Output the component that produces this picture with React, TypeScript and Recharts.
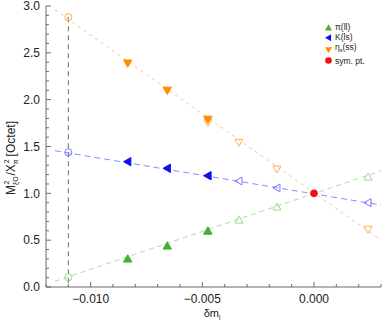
import React from "react";
import {
  ComposedChart,
  Scatter,
  XAxis,
  YAxis,
  ReferenceLine,
  Label,
} from "recharts";

// measured points (filled = simulated, open = extrapolated)
const xFilled = [-0.00834, -0.00657, -0.00475];
const piFilled = [0.3, 0.438, 0.598];
const kFilled = [1.338, 1.267, 1.188];
const etaFilled = [2.39, 2.1, 1.79];

const xOpen = [-0.011, -0.00475, -0.00336, -0.00166, 0.00242];
const piOpen = [0.104, 0.598, 0.715, 0.854, 1.174];
const kOpen = [1.438, 1.188, 1.132, 1.057, 0.9];
const etaOpen = [2.88, 1.755, 1.545, 1.26, 0.616];

const symX = [0];
const symY = [1];

// fit lines
const lineX = [-0.0116, 0.003];
const piLine = [0.06, 1.24];
const kLine = [1.455, 0.875];
const etaLine = [2.96, 0.5];

const xMajor = [-0.01, -0.005, 0];
const yMajor = [0, 0.5, 1, 1.5, 2, 2.5, 3];
const xMinorStep = 0.001;
const yMinorStep = 0.1;

const legendItems = [
  { label: "π(ll)", color: "#44b035", dir: "up" },
  { label: "K(ls)", color: "#1010f0", dir: "left" },
  { label: "η_s(ss)", color: "#ff8c00", dir: "down" },
  { label: "sym. pt.", color: "#ee1111", dir: "dot" },
];

const X_DOMAIN = [-0.012, 0.003];
const Y_DOMAIN = [0, 3];

const buildTicks = (lo: number, hi: number, step: number) => {
  const out: number[] = [];
  const n = Math.round((hi - lo) / step);
  for (let i = 0; i <= n; i++) out.push(+(lo + i * step).toFixed(6));
  return out;
};
const xTicks = buildTicks(X_DOMAIN[0], X_DOMAIN[1], xMinorStep);
const yTicks = buildTicks(Y_DOMAIN[0], Y_DOMAIN[1], yMinorStep);

const pts = (xs: number[], ys: number[]) => xs.map((x, i) => ({ x, y: ys[i] }));

const isMajor = (v: number, list: number[]) =>
  list.some((m) => Math.abs(m - v) < 1e-7);

const FRAME = "#6a6a6a";
const FONT = "'Liberation Sans', Arial, sans-serif";

const fmt = (v: number, d: number) => v.toFixed(d).replace("-", "\u2212");

const trianglePoints = (cx: number, cy: number, r: number, dir: string) => {
  let p: number[][];
  if (dir === "up")
    p = [[cx, cy - r], [cx - r, cy + r * 0.75], [cx + r, cy + r * 0.75]];
  else if (dir === "down")
    p = [[cx, cy + r], [cx - r, cy - r * 0.75], [cx + r, cy - r * 0.75]];
  else p = [[cx - r, cy], [cx + r * 0.75, cy - r], [cx + r * 0.75, cy + r]];
  return p.map((q) => q.join(",")).join(" ");
};

const markerShape =
  (dir: string, color: string, filled: boolean, r = 4.2) =>
  (props: any) => {
    const { cx, cy } = props;
    if (cx == null || cy == null) return <g />;
    if (dir === "circle")
      return <circle cx={cx} cy={cy} r={3.6} fill="none" stroke={color} strokeWidth={1} />;
    if (dir === "dot") return <circle cx={cx} cy={cy} r={3.8} fill={color} />;
    return (
      <polygon
        points={trianglePoints(cx, cy, r, dir)}
        fill={filled ? color : "none"}
        stroke={color}
        strokeWidth={1}
      />
    );
  };

// open circle at the physical point, open triangle elsewhere
const openShape = (dir: string, color: string) => (props: any) => {
  const { cx, cy, payload } = props;
  if (payload && Math.abs(payload.x - xOpen[0]) < 1e-7)
    return markerShape("circle", color, false)({ cx, cy });
  return markerShape(dir, color, false, 4)({ cx, cy });
};

const noShape = () => <g />;

const makeTick =
  (side: "bottom" | "top" | "left" | "right", majors: number[], label: boolean) =>
  (props: any) => {
    const { x, y, payload } = props;
    const major = isMajor(payload.value, majors);
    const len = major ? 5 : 3;
    let line;
    if (side === "bottom") line = <line x1={x} x2={x} y1={y} y2={y - len} />;
    else if (side === "top") line = <line x1={x} x2={x} y1={y} y2={y + len} />;
    else if (side === "left") line = <line x1={x} x2={x + len} y1={y} y2={y} />;
    else line = <line x1={x} x2={x - len} y1={y} y2={y} />;
    return (
      <g stroke={FRAME} strokeWidth={1}>
        {line}
        {label && major && side === "bottom" && (
          <text x={x} y={y + 16} textAnchor="middle" fontSize={12} fill="#222" stroke="none" fontFamily={FONT}>
            {fmt(payload.value, 3)}
          </text>
        )}
        {label && major && side === "left" && (
          <text x={x - 6} y={y + 4.3} textAnchor="end" fontSize={12} fill="#222" stroke="none" fontFamily={FONT}>
            {fmt(payload.value, 1)}
          </text>
        )}
      </g>
    );
  };

const LegendBox = () => (
  <div
    style={{
      position: "absolute",
      left: 324,
      top: 22,
      fontFamily: FONT,
      fontSize: 8.5,
      color: "#222",
      lineHeight: "10.2px",
    }}
  >
    {legendItems.map((it) => (
      <div key={it.label} style={{ display: "flex", alignItems: "center", whiteSpace: "nowrap" }}>
        <svg width={9} height={9} style={{ marginRight: 2 }}>
          {it.dir === "dot" ? (
            <circle cx={4.5} cy={4.5} r={3.3} fill={it.color} />
          ) : (
            <polygon points={trianglePoints(4.5, 4.8, 3.5, it.dir)} fill={it.color} />
          )}
        </svg>
        {it.label === "η_s(ss)" ? (
          <span>
            η<sub style={{ fontSize: 5.5, verticalAlign: "-2px" }}>s</sub>(ss)
          </span>
        ) : (
          <span>{it.label}</span>
        )}
      </div>
    ))}
  </div>
);

const YTitle = () => (
  <text
    transform="translate(15,158) rotate(-90)"
    textAnchor="middle"
    fontSize={12}
    fill="#222"
    fontFamily={FONT}
  >
    M
    <tspan fontSize={7} dy={3}>ξO</tspan>
    <tspan fontSize={7} dy={-9} dx={-8}>2</tspan>
    <tspan dy={6} dx={5}>/X</tspan>
    <tspan fontSize={7} dy={3}>π</tspan>
    <tspan fontSize={7} dy={-9} dx={-4}>2</tspan>
    <tspan dy={6} dx={3}>[Octet]</tspan>
  </text>
);

export default function App() {
  return (
    <div style={{ position: "absolute", left: 0, top: 0, width: 382, height: 328, background: "#fff" }}>
      <ComposedChart
        width={382}
        height={328}
        margin={{ top: 6, right: 1, bottom: 0, left: 0 }}
      >
        <XAxis
          xAxisId="x"
          dataKey="x"
          type="number"
          domain={X_DOMAIN}
          ticks={xTicks}
          interval={0}
          allowDataOverflow
          height={41}
          tickSize={0}
          tickMargin={0}
          tickLine={false}
          axisLine={{ stroke: FRAME }}
          tick={makeTick("bottom", xMajor, true)}
        >
          <Label
            content={() => (
              <text x={212} y={317} textAnchor="middle" fontSize={11} fill="#222" fontFamily={FONT}>
                δm<tspan fontSize={6.5} dy={2.5}>l</tspan>
              </text>
            )}
          />
        </XAxis>
        <XAxis
          xAxisId="xt"
          orientation="top"
          type="number"
          domain={X_DOMAIN}
          ticks={xTicks}
          interval={0}
          allowDataOverflow
          height={0}
          tickSize={0}
          tickMargin={0}
          tickLine={false}
          axisLine={{ stroke: FRAME }}
          tick={makeTick("top", xMajor, false)}
        />
        <YAxis
          yAxisId="y"
          dataKey="y"
          type="number"
          domain={Y_DOMAIN}
          ticks={yTicks}
          interval={0}
          allowDataOverflow
          width={46}
          tickSize={0}
          tickMargin={0}
          tickLine={false}
          axisLine={{ stroke: FRAME }}
          tick={makeTick("left", yMajor, true)}
        >
          <Label content={() => <YTitle />} />
        </YAxis>
        <YAxis
          yAxisId="yr"
          orientation="right"
          type="number"
          domain={Y_DOMAIN}
          ticks={yTicks}
          interval={0}
          allowDataOverflow
          width={0}
          tickSize={0}
          tickMargin={0}
          tickLine={false}
          axisLine={{ stroke: FRAME }}
          tick={makeTick("right", yMajor, false)}
        />

        <ReferenceLine
          xAxisId="x"
          yAxisId="y"
          segment={[
            { x: xOpen[0], y: etaOpen[0] },
            { x: xOpen[0], y: 0 },
          ]}
          stroke="#666"
          strokeDasharray="5 4"
        />

        <Scatter xAxisId="x" yAxisId="y" data={pts(lineX, etaLine)} line={{ stroke: "#ffc27a", strokeDasharray: "3 4" }} shape={noShape} isAnimationActive={false} />
        <Scatter xAxisId="x" yAxisId="y" data={pts(lineX, kLine)} line={{ stroke: "#8a8aff", strokeDasharray: "6 4" }} shape={noShape} isAnimationActive={false} />
        <Scatter xAxisId="x" yAxisId="y" data={pts(lineX, piLine)} line={{ stroke: "#a8e09a", strokeDasharray: "5 4" }} shape={noShape} isAnimationActive={false} />

        <Scatter xAxisId="x" yAxisId="y" data={pts(xOpen, etaOpen)} shape={openShape("down", "#ffb050")} isAnimationActive={false} />
        <Scatter xAxisId="x" yAxisId="y" data={pts(xOpen, kOpen)} shape={openShape("left", "#7a7aff")} isAnimationActive={false} />
        <Scatter xAxisId="x" yAxisId="y" data={pts(xOpen, piOpen)} shape={openShape("up", "#98dc88")} isAnimationActive={false} />

        <Scatter xAxisId="x" yAxisId="y" data={pts(xFilled, etaFilled)} shape={markerShape("down", "#ff8c00", true)} isAnimationActive={false} />
        <Scatter xAxisId="x" yAxisId="y" data={pts(xFilled, kFilled)} shape={markerShape("left", "#1010f0", true)} isAnimationActive={false} />
        <Scatter xAxisId="x" yAxisId="y" data={pts(xFilled, piFilled)} shape={markerShape("up", "#44b035", true)} isAnimationActive={false} />
        <Scatter xAxisId="x" yAxisId="y" data={pts(symX, symY)} shape={markerShape("dot", "#ee1111", true)} isAnimationActive={false} />
      </ComposedChart>
      <LegendBox />
    </div>
  );
}
